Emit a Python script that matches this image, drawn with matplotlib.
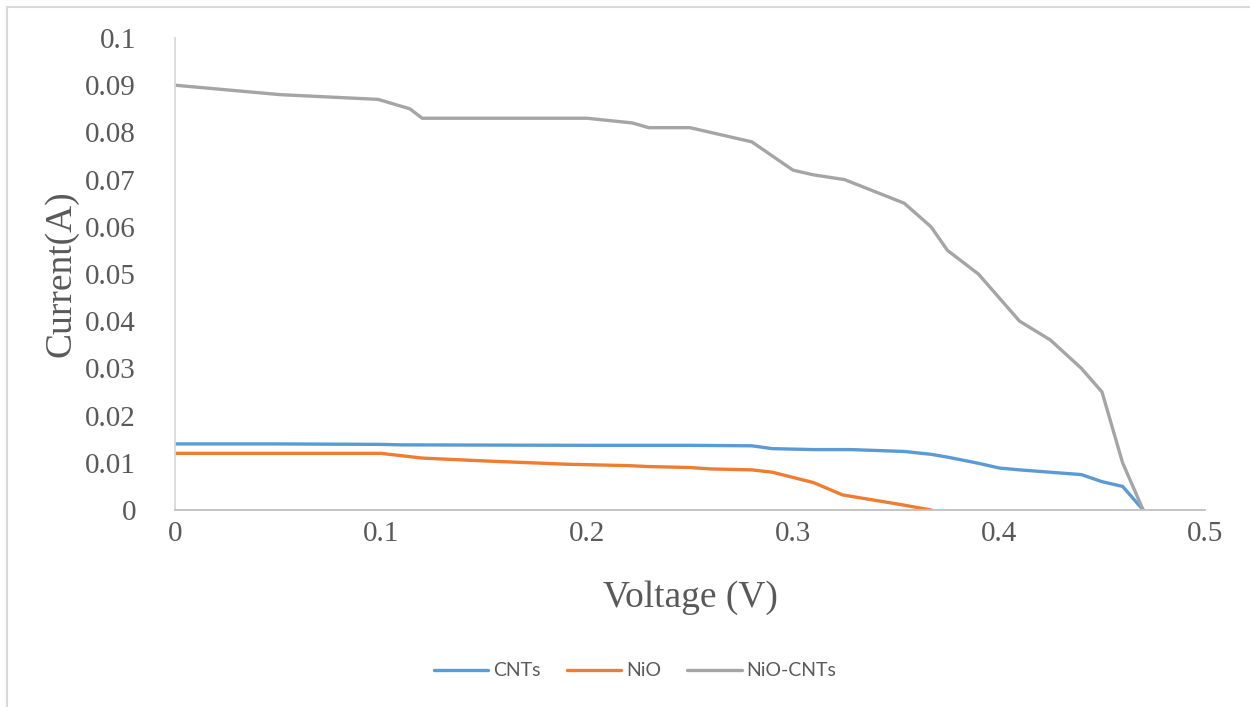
import matplotlib
matplotlib.use("Agg")
import matplotlib.pyplot as plt
from matplotlib.ticker import FixedLocator, FixedFormatter

# I-V measurements
v_cnt = [0.0, 0.05, 0.10, 0.11, 0.20, 0.25, 0.28, 0.29, 0.31, 0.328, 0.354, 0.367,
         0.375, 0.39, 0.40, 0.41, 0.425, 0.44, 0.45, 0.46, 0.47]
i_cnt = [0.014, 0.014, 0.0139, 0.0138, 0.0137, 0.0137, 0.0136, 0.013, 0.0128, 0.0128,
         0.0124, 0.0118, 0.0112, 0.0099, 0.0089, 0.0085, 0.008, 0.0075, 0.006, 0.005, 0.0]

v_nio = [0.0, 0.05, 0.10, 0.12, 0.15, 0.19, 0.22, 0.23, 0.25, 0.26, 0.28, 0.29,
         0.30, 0.31, 0.324, 0.353, 0.367]
i_nio = [0.012, 0.012, 0.012, 0.011, 0.0104, 0.0097, 0.0094, 0.0092, 0.009, 0.0087,
         0.0085, 0.008, 0.0069, 0.0058, 0.0032, 0.0011, 0.0]

v_mix = [0.0, 0.051, 0.0985, 0.114, 0.12, 0.20, 0.222, 0.23, 0.25, 0.28, 0.30, 0.31,
         0.325, 0.354, 0.367, 0.375, 0.39, 0.41, 0.425, 0.44, 0.45, 0.46, 0.47]
i_mix = [0.090, 0.088, 0.087, 0.085, 0.083, 0.083, 0.082, 0.081, 0.081, 0.078, 0.072,
         0.071, 0.070, 0.065, 0.060, 0.055, 0.050, 0.040, 0.036, 0.030, 0.025, 0.010, 0.0]

series_names = ["CNTs", "NiO", "NiO-CNTs"]
series_colors = ["#5B9BD5", "#ED7D31", "#A5A5A5"]

x_ticks = [0, 0.1, 0.2, 0.3, 0.4, 0.5]
x_tick_labels = ["0", "0.1", "0.2", "0.3", "0.4", "0.5"]
y_ticks = [0, 0.01, 0.02, 0.03, 0.04, 0.05, 0.06, 0.07, 0.08, 0.09, 0.1]
y_tick_labels = ["0", "0.01", "0.02", "0.03", "0.04", "0.05", "0.06", "0.07",
                 "0.08", "0.09", "0.1"]

text_color = "#595959"
serif = ["Liberation Serif", "DejaVu Serif"]

fig = plt.figure(figsize=(12.5, 7.07), dpi=100)
fig.patch.set_facecolor("white")

# light frame along the left and top edges of the chart area
fig.add_artist(plt.Line2D([7 / 1250, 7 / 1250], [0, 1 - 7 / 707],
                          transform=fig.transFigure, color="#D9D9D9", lw=1.5))
fig.add_artist(plt.Line2D([7 / 1250, 1], [1 - 7 / 707, 1 - 7 / 707],
                          transform=fig.transFigure, color="#D9D9D9", lw=1.5))

ax = fig.add_axes([175 / 1250, 1 - 510 / 707, 1030 / 1250, 472 / 707])

for v, i, name, c in zip([v_cnt, v_nio, v_mix], [i_cnt, i_nio, i_mix],
                         series_names, series_colors):
    ax.plot(v, i, color=c, lw=2.4, label=name, solid_joinstyle="round",
            solid_capstyle="round")

ax.set_xlim(0, 0.5)
ax.set_ylim(0, 0.1)
ax.xaxis.set_major_locator(FixedLocator(x_ticks))
ax.xaxis.set_major_formatter(FixedFormatter(x_tick_labels))
ax.yaxis.set_major_locator(FixedLocator(y_ticks))
ax.yaxis.set_major_formatter(FixedFormatter(y_tick_labels))

for side in ["top", "right"]:
    ax.spines[side].set_visible(False)
ax.spines["left"].set_color("#D9D9D9")
ax.spines["bottom"].set_color("#BFBFBF")
ax.spines["left"].set_linewidth(1.3)
ax.spines["bottom"].set_linewidth(1.3)

ax.tick_params(axis="both", length=0, labelsize=21, labelcolor=text_color)
ax.tick_params(axis="x", pad=8)
ax.tick_params(axis="y", pad=28)
for lab in ax.get_xticklabels() + ax.get_yticklabels():
    lab.set_family(serif)

ax.set_xlabel("Voltage (V)", fontsize=27, color=text_color, family=serif, labelpad=24)
ax.set_ylabel("Current(A)", fontsize=27, color=text_color, family=serif, labelpad=5)

leg = fig.legend(loc="center", bbox_to_anchor=(635 / 1250, 1 - 671 / 707), ncol=3,
                 frameon=False, handlelength=2.8, handletextpad=0.25,
                 columnspacing=1.35,
                 prop={"family": ["Lato", "DejaVu Sans"], "size": 14})
for t in leg.get_texts():
    t.set_color(text_color)

fig.savefig("out.png", dpi=100, facecolor="white")
